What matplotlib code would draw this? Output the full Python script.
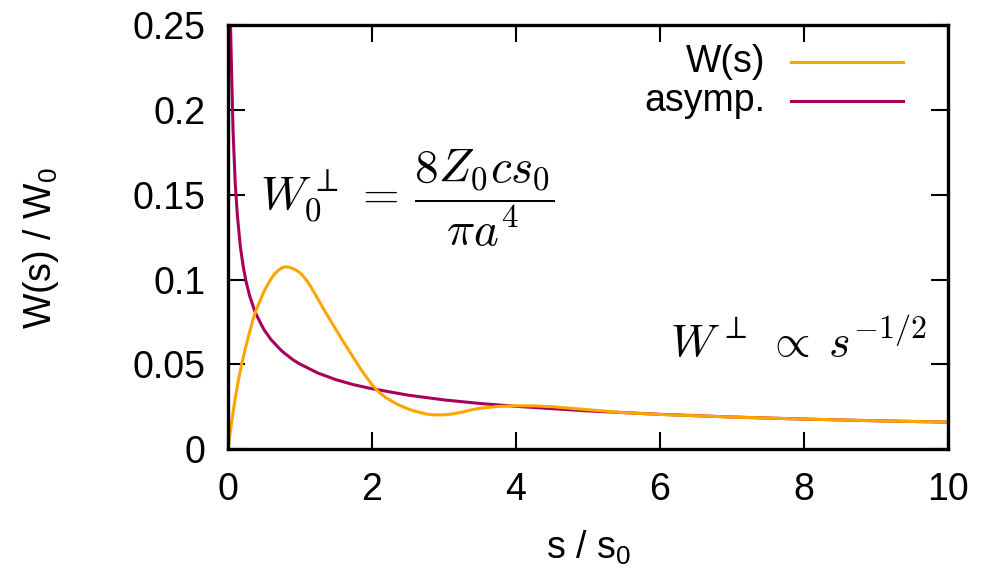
import matplotlib.pyplot as plt
from matplotlib.lines import Line2D

plt.rcParams['font.family'] = ['Liberation Sans', 'DejaVu Sans']
plt.rcParams['mathtext.fontset'] = 'cm'

# W(s) curve
s_w = [0.0, 0.05, 0.1, 0.15, 0.2, 0.25, 0.3, 0.35, 0.4, 0.45, 0.5, 0.55,
       0.6, 0.65, 0.7, 0.75, 0.8, 0.85, 0.9, 0.95, 1.0, 1.05, 1.1, 1.15,
       1.25, 1.35, 1.5, 1.6, 1.75, 1.85, 2.0, 2.1, 2.2, 2.35, 2.5, 2.6,
       2.75, 2.85, 3.0, 3.1, 3.25, 3.4, 3.5, 3.75, 4.0, 4.25, 4.5, 5.0,
       5.5, 6.0, 7.0, 8.0, 9.0, 10.0]
w_s = [0.0, 0.016, 0.030, 0.042, 0.052, 0.061, 0.069, 0.077, 0.083, 0.088,
       0.093, 0.097, 0.1005, 0.1035, 0.1055, 0.107, 0.1075, 0.1073, 0.1065,
       0.1055, 0.104, 0.1018, 0.099, 0.0958, 0.0885, 0.081, 0.0705, 0.0635,
       0.0535, 0.0468, 0.038, 0.0335, 0.0302, 0.0265, 0.0238, 0.0224,
       0.0208, 0.0203, 0.0203, 0.0207, 0.0219, 0.0234, 0.0242, 0.0252,
       0.0256, 0.0256, 0.0251, 0.0233, 0.0216, 0.0205, 0.019, 0.0178,
       0.0168, 0.016]

# asymptote
s_a = [0.035, 0.05, 0.07, 0.1, 0.13, 0.17, 0.21, 0.25, 0.3, 0.375, 0.45,
       0.5, 0.6, 0.75, 0.9, 1.0, 1.25, 1.5, 1.75, 2.0, 2.5, 3.0, 3.5, 4.0,
       5.0, 6.0, 7.0, 8.0, 9.0, 10.0]
w_a = [0.25, 0.222, 0.188, 0.157, 0.138, 0.12, 0.108, 0.099, 0.0905, 0.081,
       0.0745, 0.0705, 0.0645, 0.0578, 0.0528, 0.0502, 0.0449, 0.041,
       0.038, 0.0357, 0.0319, 0.0291, 0.027, 0.0253, 0.0226, 0.0206,
       0.019, 0.0178, 0.0168, 0.016]

xticks = [0, 2, 4, 6, 8, 10]
yticks = [0, 0.05, 0.1, 0.15, 0.2, 0.25]
ytick_labels = ['0', '0.05', '0.1', '0.15', '0.2', '0.25']

c_w = '#ffa500'
c_a = '#a8005a'
fs = 27

fig = plt.figure(figsize=(9.87, 5.69), dpi=100)
ax = fig.add_axes([0.231, 0.2104, 0.7295, 0.7456])

ax.plot(s_a, w_a, color=c_a, lw=2.2, solid_joinstyle='round')
ax.plot(s_w, w_s, color=c_w, lw=2.2, solid_joinstyle='round')

ax.set_xlim(0, 10)
ax.set_ylim(0, 0.25)
ax.set_xticks(xticks)
ax.set_xticklabels([str(t) for t in xticks])
ax.set_yticks(yticks)
ax.set_yticklabels(ytick_labels)
ax.tick_params(direction='in', length=12, width=1.5, labelsize=fs,
               top=True, right=True, pad=16)
for sp in ax.spines.values():
    sp.set_linewidth(2.4)

ax.set_xlabel(r's / s$\mathregular{_0}$', fontsize=fs)
ax.set_ylabel(r'W(s) / W$\mathregular{_0}$', fontsize=fs)
ax.xaxis.set_label_coords(0.5, -0.188)
ax.yaxis.set_label_coords(-0.232, 0.475)

# legend drawn by hand so text is right aligned like gnuplot
ax.text(0.746, 0.912, 'W(s)', transform=ax.transAxes, ha='right', va='center',
        fontsize=fs)
ax.text(0.746, 0.821, 'asymp.', transform=ax.transAxes, ha='right', va='center',
        fontsize=fs)
ax.add_line(Line2D([0.782, 0.9375], [0.912, 0.912], color=c_w, lw=2.2,
                   transform=ax.transAxes))
ax.add_line(Line2D([0.782, 0.9375], [0.821, 0.821], color=c_a, lw=2.2,
                   transform=ax.transAxes))

ax.text(0.044, 0.593, r'$W_0^{\perp}\,=\,\dfrac{8Z_0 c s_0}{\pi a^4}$',
        transform=ax.transAxes, ha='left', va='center', fontsize=34)
ax.text(0.97, 0.25, r'$W^{\perp}\;\propto\;s^{-1/2}$',
        transform=ax.transAxes, ha='right', va='center', fontsize=33)

fig.savefig('out.png', dpi=100)
